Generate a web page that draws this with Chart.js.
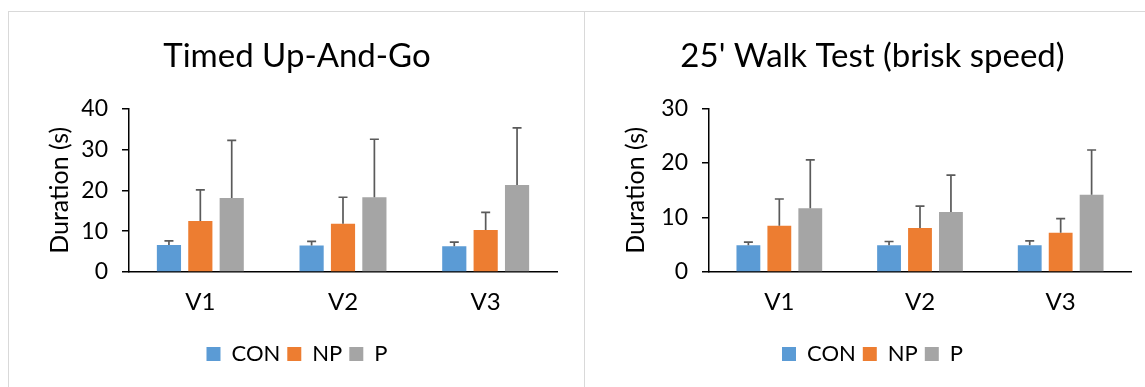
<!DOCTYPE html>
<html>
<head>
<meta charset="utf-8">
<script src="https://cdn.jsdelivr.net/npm/chart.js@4.4.1/dist/chart.umd.min.js"></script>
<style>
  html, body { margin: 0; padding: 0; background: #fff; width: 1145px; height: 387px; overflow: hidden; }
  .panel { position: absolute; top: 11px; height: 400px; border: 1px solid #d9d9d9; box-sizing: border-box; background: #fff; }
  #p1 { left: 8px; width: 577px; }
  #p2 { left: 584px; width: 578px; }
  canvas { display: block; }
</style>
</head>
<body>
<div class="panel" id="p1"><canvas id="c1" width="576" height="375"></canvas></div>
<div class="panel" id="p2"><canvas id="c2" width="575" height="375"></canvas></div>
<script>
// Visits and groups
const categories = ['V1', 'V2', 'V3'];
const groupNames = ['CON', 'NP', 'P'];
const groupColors = ['#5B9BD5', '#ED7D31', '#A5A5A5'];

// Timed Up-And-Go: mean duration (s) and upper SD
const tugCON = [6.6, 6.5, 6.3];
const tugNP  = [12.5, 11.8, 10.3];
const tugP   = [18.1, 18.3, 21.3];
const tugErrCON = [1.0, 1.0, 1.0];
const tugErrNP  = [7.6, 6.5, 4.3];
const tugErrP   = [14.1, 14.2, 14.0];

// 25' Walk Test (brisk speed): mean duration (s) and upper SD
const walkCON = [4.9, 4.9, 4.9];
const walkNP  = [8.5, 8.1, 7.2];
const walkP   = [11.7, 11.0, 14.2];
const walkErrCON = [0.6, 0.7, 0.8];
const walkErrNP  = [4.9, 4.0, 2.6];
const walkErrP   = [8.9, 6.8, 8.2];

// Axis tick labels
const tugTicks  = [0, 10, 20, 30, 40];
const walkTicks = [0, 10, 20, 30];

const FONT = 'Lato, "Open Sans", sans-serif';

// Draws plus-only error bars with a cap, using the chart's own y scale
const errorBars = {
  id: 'errorBars',
  afterDatasetsDraw(chart) {
    const ctx = chart.ctx;
    const y = chart.scales.y;
    chart.data.datasets.forEach((ds, i) => {
      const meta = chart.getDatasetMeta(i);
      meta.data.forEach((bar, j) => {
        const top = y.getPixelForValue(ds.data[j] + ds.errorPlus[j]);
        const base = y.getPixelForValue(ds.data[j]);
        ctx.save();
        ctx.strokeStyle = '#5a5a5a';
        ctx.lineWidth = 1.7;
        ctx.beginPath();
        ctx.moveTo(bar.x, base);
        ctx.lineTo(bar.x, top);
        ctx.moveTo(bar.x - 4.5, top);
        ctx.lineTo(bar.x + 4.5, top);
        ctx.stroke();
        ctx.restore();
      });
    });
  }
};

function buildChart(canvasId, titleText, values, errors, ticks, leftWidth, rightWidth) {
  const datasets = groupNames.map((name, k) => ({
    label: name,
    data: values[k],
    errorPlus: errors[k],
    yAxisID: 'y',
    backgroundColor: groupColors[k],
    borderWidth: 0,
    categoryPercentage: 0.66,
    barPercentage: 0.77
  }));
  return new Chart(document.getElementById(canvasId), {
    type: 'bar',
    data: { labels: categories, datasets },
    plugins: [errorBars],
    options: {
      responsive: false,
      animation: false,
      layout: { padding: { left: 0, right: 0, top: 0, bottom: 12 } },
      plugins: {
        title: {
          display: true,
          text: titleText,
          color: '#000',
          font: { family: FONT, size: 33, weight: 'normal' },
          padding: { top: 25, bottom: 32 }
        },
        legend: {
          position: 'bottom',
          labels: {
            color: '#000',
            font: { family: FONT, size: 22 },
            boxWidth: 14,
            boxHeight: 14,
            padding: 7
          }
        },
        tooltip: { enabled: false }
      },
      scales: {
        x: {
          grid: { display: false, drawTicks: false },
          border: { display: true, color: '#000', width: 1.5 },
          ticks: { color: '#000', font: { family: FONT, size: 24 }, padding: 16 },
          afterFit(scale) { scale.height = 64; }
        },
        y: {
          min: ticks[0],
          max: ticks[ticks.length - 1],
          afterBuildTicks(scale) { scale.ticks = ticks.map(v => ({ value: v })); },
          grid: { display: true, drawOnChartArea: false, drawTicks: true, tickLength: 7, color: '#000', lineWidth: 1.5 },
          border: { display: true, color: '#000', width: 1.5 },
          ticks: { color: '#000', font: { family: FONT, size: 23 }, padding: 14 },
          title: {
            display: true,
            text: 'Duration (s)',
            color: '#000',
            font: { family: FONT, size: 25 },
            padding: { top: 36, bottom: 0 }
          },
          afterFit(scale) { scale.width = leftWidth; }
        },
        // empty spacer on the right so the plot ends short of the panel edge
        yRight: {
          position: 'right',
          display: true,
          grid: { display: false, drawTicks: false },
          border: { display: false },
          ticks: { display: false },
          afterFit(scale) { scale.width = rightWidth; }
        }
      }
    }
  });
}

function draw() {
  buildChart('c1', 'Timed Up-And-Go',
    [tugCON, tugNP, tugP], [tugErrCON, tugErrNP, tugErrP], tugTicks, 120, 28);
  buildChart('c2', "25' Walk Test (brisk speed)",
    [walkCON, walkNP, walkP], [walkErrCON, walkErrNP, walkErrP], walkTicks, 124, 29);
}

if (document.fonts && document.fonts.load) {
  Promise.all([document.fonts.load('23px Lato'), document.fonts.load('33px Lato')]).then(draw, draw);
} else {
  draw();
}
</script>
</body>
</html>
